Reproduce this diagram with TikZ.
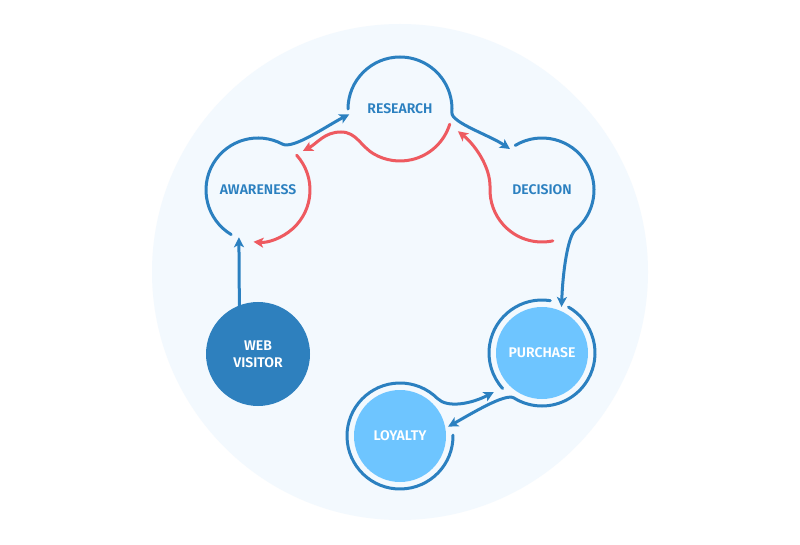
\documentclass[tikz,border=0pt]{standalone}
\usepackage{fontspec}
\setmainfont{Fira Sans}[BoldFont={Fira Sans SemiBold}]
\usetikzlibrary{arrows.meta,calc}
\definecolor{cblue}{HTML}{2B80C0}
\definecolor{cred}{HTML}{EE5A60}
\definecolor{clight}{HTML}{6EC5FF}
\definecolor{cdark}{HTML}{2E80BE}
\definecolor{cbg}{HTML}{F3F9FE}
\begin{document}
\begin{tikzpicture}[x=1pt,y=1pt,
  stage/.style={circle, inner sep=0pt, outer sep=0pt, align=center,
    font=\bfseries\fontsize{14}{17}\selectfont},
  openstage/.style={stage, minimum size=104pt, text=cblue},
  darkstage/.style={stage, minimum size=104pt, fill=cdark, text=white},
  lightstage/.style={stage, minimum size=92pt, fill=clight, text=white},
  bline/.style={draw=cblue, line width=3pt, line cap=round},
  rline/.style={draw=cred, line width=3pt, line cap=round},
  tip/.style={-{Stealth[length=10pt,width=10pt,inset=2.5pt]}}]
\fill[white] (0,0) rectangle (800,544);
\useasboundingbox (0,0) rectangle (800,544);
\fill[cbg] (400,272) circle[radius=248pt];

\node[openstage] (R) at (400,435) {RESEARCH};
\node[openstage] (A) at (258,354) {AWARENESS};
\node[openstage] (D) at (542,354) {DECISION};
\node[darkstage] (W) at (258,190) {WEB\\VISITOR};
\node[lightstage] (P) at (542,191) {PURCHASE};
\node[lightstage] (L) at (400,108) {LOYALTY};
\coordinate (rpeak) at (341,412);

% blue forward path
\draw[bline, tip] ($(A.center)+(239:52pt)$) arc[start angle=239, end angle=62, radius=52pt]
  to[out=-28, in=207, out distance=12pt, in distance=25pt] ($(R.center)+(186:51pt)$);
\draw[bline, tip] ($(R.center)+(180:52pt)$) arc[start angle=180, end angle=-4, radius=52pt]
  to[out=-94, in=146, out distance=10pt, in distance=25pt] ($(D.center)+(128:52pt)$);
\draw[bline, tip] ($(D.center)+(121:52pt)$) arc[start angle=121, end angle=-50, radius=52pt]
  to[out=-140, in=88, out distance=10pt, in distance=35pt] ($(P.center)+(67:50pt)$);
\draw[bline] ($(P.center)+(81:53pt)$) arc[start angle=81, end angle=222, radius=53pt];
\draw[bline, tip] ($(P.center)+(60:53pt)$) arc[start angle=60, end angle=-122, radius=53pt]
  to[out=148, in=29, out distance=10pt, in distance=25pt] ($(L.center)+(11:49pt)$);
\draw[bline, tip] ($(L.center)+(1:53pt)$) arc[start angle=1, end angle=-315, radius=53pt]
  to[out=-45, in=208, out distance=14pt, in distance=25pt] ($(P.center)+(219:62pt)$);
\draw[bline, tip] ($(W.center)+(111:52pt)$) -- ($(A.center)+(248:51pt)$);

% red backward path
\draw[rline, tip] ($(R.center)+(-17:52pt)$) arc[start angle=-17, end angle=-120, radius=52pt]
  to[out=150, in=0] (rpeak) to[out=180, in=28] ($(A.center)+(41:59.5pt)$);
\draw[rline, tip] ($(A.center)+(42:52pt)$) arc[start angle=42, end angle=-95, radius=52pt];
\draw[rline, tip] ($(D.center)+(-78:52pt)$) arc[start angle=-78, end angle=-182, radius=52pt]
  to[out=88, in=-38, out distance=22pt, in distance=20pt] ($(R.center)+(-21:62pt)$);
\end{tikzpicture}
\end{document}
